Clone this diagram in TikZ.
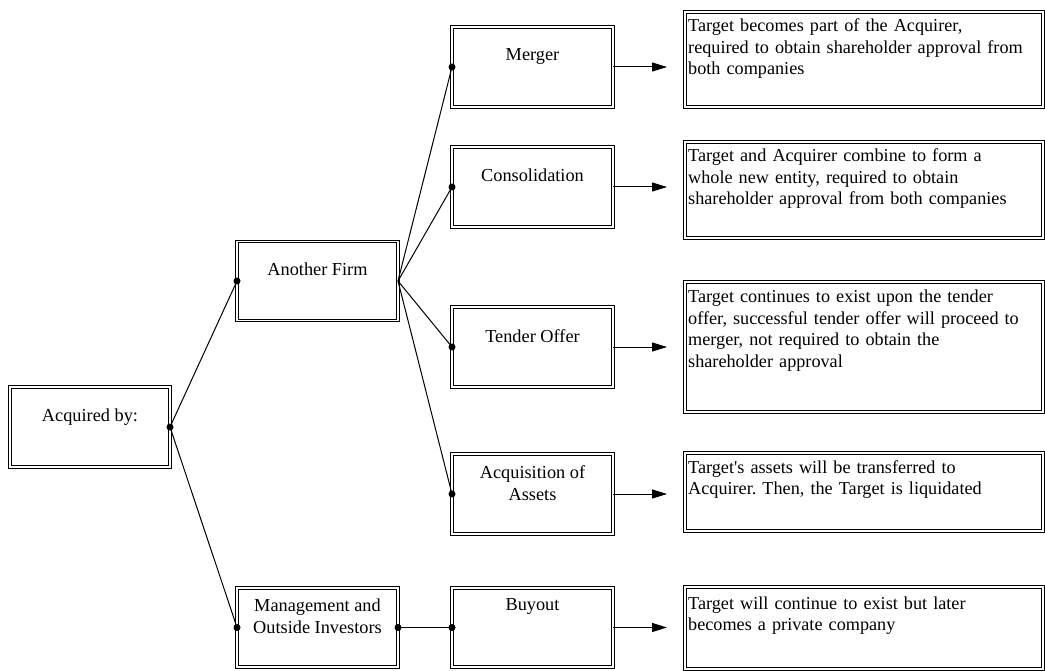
\documentclass[tikz,border=0pt]{standalone}
\usepackage{fontspec}
\setmainfont{Liberation Serif}
\usetikzlibrary{arrows.meta}
\frenchspacing
\begin{document}
\begin{tikzpicture}[x=1pt,y=-1pt,
  dbox/.style={draw=black, double=white, double distance=1.6pt, line width=0.9pt,
    rectangle, inner sep=0pt, outer sep=0pt, fill=white},
  midbox/.style={dbox, minimum width=161pt, minimum height=80pt},
  descbox/.style={dbox, minimum width=358pt},
  lbl/.style={font=\fontsize{18.3}{22}\selectfont, inner sep=0pt, anchor=base, align=center},
  dtxt/.style={font=\fontsize{18.2}{21.4}\selectfont, inner sep=0pt, anchor=base west,
    text width=354pt, align=left},
  conn/.style={line width=1pt},
  arr/.style={line width=1pt, -{Triangle[length=15pt,width=9pt]}, shorten >=18pt},
  dot/.style={circle, fill=black, inner sep=0pt, minimum size=7pt}
]
\useasboundingbox (0,0) rectangle (1045,671);

% left boxes
\node[midbox, minimum width=160pt] (acq) at (90,427) {};
\node[lbl] (acqt) at (90,421) {Acquired by:};
\node[midbox, minimum height=79pt] (firm) at (317.5,281) {};
\node[lbl] (firmt) at (317.5,276) {Another Firm};
\node[midbox, minimum height=79pt] (mgmt) at (317.5,627.5) {};
\node[lbl] (mgmtt) at (317.5,633) {Management and\\Outside Investors};

% middle boxes
\node[midbox] (merger) at (532.5,67) {};
\node[lbl] (mergert) at (532.5,61) {Merger};
\node[midbox] (consol) at (532.5,187) {};
\node[lbl] (consolt) at (532.5,182) {Consolidation};
\node[midbox] (tender) at (532.5,347) {};
\node[lbl] (tendert) at (532.5,342) {Tender Offer};
\node[midbox] (assets) at (532.5,494) {};
\node[lbl] (assetst) at (532.5,500) {Acquisition of\\Assets};
\node[midbox, minimum height=79pt] (buyout) at (532.5,627.5) {};
\node[lbl] (buyoutt) at (532.5,610) {Buyout};

% description boxes
\node[descbox, minimum height=95pt] (d1) at (864,59.5) {};
\node[dtxt] (d1t) at (688,32) {Target becomes part of the Acquirer,\\required to obtain shareholder approval from\\both companies};
\node[descbox, minimum height=96pt] (d2) at (864,190) {};
\node[dtxt] (d2t) at (688,162) {Target and Acquirer combine to form a\\whole new entity, required to obtain\\shareholder approval from both companies};
\node[descbox, minimum height=130pt] (d3) at (864,347) {};
\node[dtxt] (d3t) at (688,303) {Target continues to exist upon the tender\\offer, successful tender offer will proceed to\\merger, not required to obtain the\\shareholder approval};
\node[descbox, minimum height=78pt] (d4) at (864,492) {};
\node[dtxt] (d4t) at (688,473) {Target\textquotesingle s assets will be transferred to\\Acquirer. Then, the Target is liquidated};
\node[descbox, minimum height=82pt] (d5) at (864,628) {};
\node[dtxt] (d5t) at (688,609) {Target will continue to exist but later\\becomes a private company};

% connectors
\draw[conn] (acq.east) -- (firm.west);
\draw[conn] (acq.east) -- (mgmt.west);
\draw[conn] (firm.east) -- (merger.west);
\draw[conn] (firm.east) -- (consol.west);
\draw[conn] (firm.east) -- (tender.west);
\draw[conn] (firm.east) -- (assets.west);
\draw[conn] (mgmt.east) -- (buyout.west);

\node[dot] (dacq) at (acq.east) {};
\node[dot] (dfirm) at (firm.west) {};
\node[dot] (dmgmt) at (mgmt.west) {};
\node[dot] (dmgmt2) at (mgmt.east) {};
\node[dot] (dmerger) at (merger.west) {};
\node[dot] (dconsol) at (consol.west) {};
\node[dot] (dtender) at (tender.west) {};
\node[dot] (dassets) at (assets.west) {};
\node[dot] (dbuyout) at (buyout.west) {};

% arrows
\draw[arr] (merger.east) -- (merger.east -| d1.west);
\draw[arr] (consol.east) -- (consol.east -| d2.west);
\draw[arr] (tender.east) -- (tender.east -| d3.west);
\draw[arr] (assets.east) -- (assets.east -| d4.west);
\draw[arr] (buyout.east) -- (buyout.east -| d5.west);
\end{tikzpicture}
\end{document}
